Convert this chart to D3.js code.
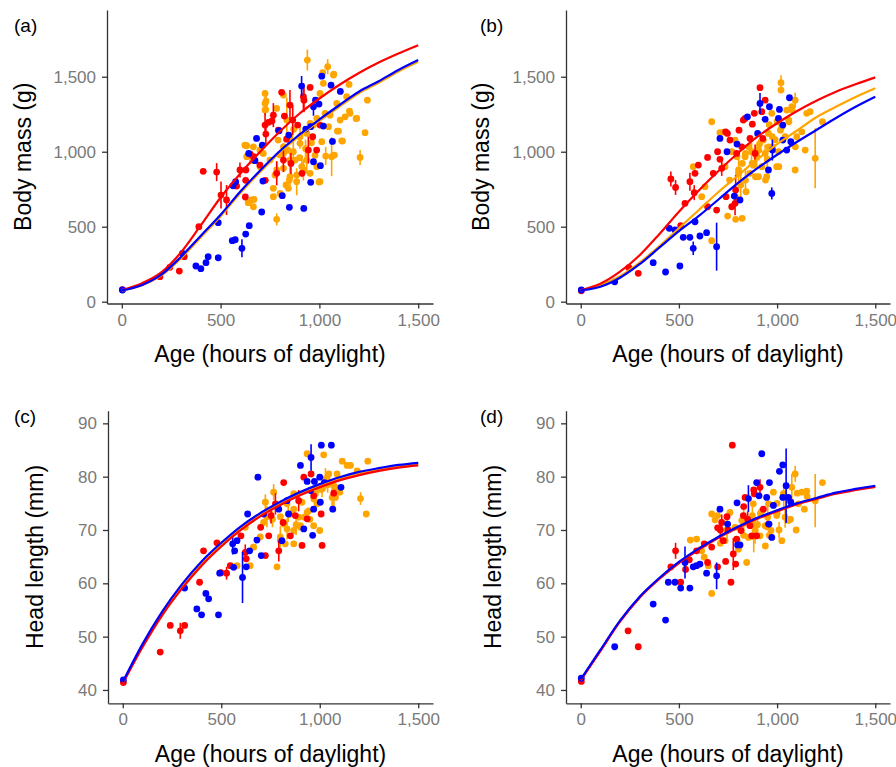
<!DOCTYPE html>
<html>
<head>
<meta charset="utf-8">
<script src="https://cdn.jsdelivr.net/npm/d3@7"></script>
<style>
  body { margin: 0; background: #fff; }
  svg { display: block; font-family: "Liberation Sans", Arial, sans-serif; }
  .tick text { fill: #7a7a7a; font-size: 17px; }
  .domain, .tick line { stroke: #333; stroke-width: 1.3; }
</style>
</head>
<body>
<div id="chart"></div>
<script>
// ---- data ----
var xTicks = [0, 500, 1000, 1500];
var massTicks = [0, 500, 1000, 1500];
var headTicks = [40, 50, 60, 70, 80, 90];

// fitted curves, sampled every 100 hours
var curveAge = [0, 100, 200, 300, 400, 500, 600, 700, 800, 900, 1000, 1100, 1200, 1300, 1400, 1500];

var massA_redFit    = [78, 122, 195, 330, 510, 695, 855, 1000, 1135, 1255, 1355, 1445, 1525, 1595, 1655, 1710];
var massA_orangeFit = [74, 108, 175, 290, 430, 570, 725, 865, 995, 1105, 1205, 1300, 1390, 1460, 1535, 1600];
var massA_blueFit   = [75, 110, 180, 300, 440, 580, 735, 875, 1005, 1115, 1215, 1310, 1400, 1470, 1545, 1611];

var massB_redFit    = [78, 120, 200, 310, 450, 600, 740, 870, 990, 1100, 1190, 1270, 1340, 1400, 1450, 1496];
var massB_orangeFit = [75, 110, 170, 260, 370, 490, 610, 730, 840, 950, 1050, 1140, 1230, 1300, 1365, 1423];
var massB_blueFit   = [75, 100, 160, 250, 360, 470, 570, 680, 790, 890, 980, 1065, 1145, 1225, 1300, 1367];

var headC_redFit    = [41.2, 48.0, 54.0, 59.0, 63.3, 66.9, 70.0, 72.6, 74.7, 76.5, 78.0, 79.3, 80.3, 81.1, 81.7, 82.1];
var headC_orangeFit = [41.3, 48.2, 54.3, 59.3, 63.6, 67.2, 70.3, 72.9, 75.0, 76.8, 78.3, 79.6, 80.6, 81.4, 82.0, 82.4];
var headC_blueFit   = [41.5, 48.6, 54.7, 59.8, 64.1, 67.6, 70.7, 73.2, 75.3, 77.1, 78.6, 79.9, 80.9, 81.6, 82.2, 82.6];

var headD_redFit    = [41.8, 47.3, 52.8, 57.3, 60.8, 63.8, 66.3, 68.5, 70.4, 72.1, 73.5, 74.8, 75.8, 76.8, 77.5, 78.1];
var headD_orangeFit = [41.9, 47.4, 52.9, 57.4, 60.9, 63.9, 66.4, 68.6, 70.5, 72.2, 73.6, 74.9, 75.9, 76.9, 77.6, 78.2];
var headD_blueFit   = [42.0, 47.5, 53.0, 57.5, 61.0, 64.0, 66.5, 68.7, 70.6, 72.3, 73.7, 75.0, 76.0, 77.0, 77.7, 78.3];

// observations: [age, value, half length of error bar]
var massA_blue = [[3,78,0],[307,322,0],[375,238,0],[400,220,0],[426,260,0],[437,300,0],[488,293,0],[488,527,0],
  [559,407,0],[574,413,0],[608,356,60],[627,451,0],[645,507,0],[563,773,0],[576,800,0],[642,989,0],[682,1089,0],
  [674,940,0],[711,1044,0],[708,598,0],[714,804,0],[796,1140,0],[812,707,0],[845,1111,0],[848,629,0],[910,1438,67],
  [921,622,0],[931,1151,0],[956,796,0],[956,1167,0],[970,933,0],[970,1300,60],[981,1344,0],[998,1318,0],[1005,907,0],
  [1012,1504,0],[1020,1171,0],[1059,1444,0],[1066,1069,0],[1106,1402,0]];
var massA_red = [[3,80,0],[193,167,0],[243,229,0],[291,204,0],[316,300,0],[390,500,0],[412,869,0],[480,864,60],[502,711,90],
  [530,678,100],[581,771,0],[598,878,50],[625,698,0],[627,809,0],[650,984,0],[699,911,0],[726,809,0],[729,1118,70],
  [742,1196,0],[767,1244,80],[784,856,80],[809,1396,0],[823,1238,0],[834,1084,0],[856,922,70],[865,1211,100],
  [890,1178,0],[912,856,0],[922,1344,80],[953,1429,0],[966,1100,0],[986,1011,0],[1003,1178,0],[792,1144,0],[760,1205,0],
  [725,1178,80],[851,1311,100],[919,1367,90],[944,1011,90],[818,944,80],[628,878,0],[666,967,0]];
var massA_orange = [[939,1611,70],[1042,1567,50],[1017,1527,0],[1073,1518,0],[1150,1449,0],[730,1338,50],[728,1282,0],
  [632,1040,0],[662,940,0],[640,660,0],[669,682,0],[767,700,0],[784,549,40],[831,778,0],[848,811,0],[885,844,0],
  [1003,800,0],[1032,971,60],[1062,967,130],[1076,978,0],[1113,1073,0],[1091,1138,0],[1152,1271,0],[1186,1222,0],
  [1206,962,50],[1231,1127,0],[1243,1344,0],[1130,1233,0],[725,1389,0],[818,1378,0],[725,1278,0],[784,1289,0],
  [1020,1456,0],[1071,1511,0],[1003,1389,0],[1088,1322,0],[1155,1256,0],[1189,1222,0],[1117,1071,0],[1097,1138,0],
  [998,798,0],[953,856,0],[978,976,0],[911,900,70],[877,944,0],[851,833,60],[818,889,0],[775,844,0],[750,944,0],
  [818,1033,0],[851,1100,0],[868,1000,80],[902,1056,0],[936,1122,0],[953,1189,0],[987,1222,0],[1029,1256,0],
  [1046,1167,0],[1012,1067,0],[767,756,0],[801,722,0],[843,756,0],[657,678,0],[666,633,0],[885,800,90],[699,900,0],
  [716,989,0],[623,1044,0],[900,960,0],[930,1020,60],[960,1060,0],[870,1150,0],[840,1010,0],[800,980,0],
  [725,1322,80],[835,1211,150],[902,1100,80],[936,944,90],[851,944,70],[784,878,60],[818,989,70],[919,878,70],
  [987,900,0],[699,1011,0],[666,1033,0],[632,967,0],[791,1078,0],[970,1178,0],[1105,1211,0],[1138,1367,0],[1054,1244,0]];

var massB_blue = [[3,78,0],[173,133,0],[369,260,0],[432,198,0],[505,238,0],[451,489,0],[480,478,0],[522,429,0],[556,429,0],
  [582,533,0],[573,356,45],[607,438,0],[641,460,0],[692,367,160],[709,1089,0],[745,1000,0],[796,1051,0],[782,704,0],
  [811,678,0],[849,1233,0],[901,1122,0],[913,1322,70],[939,1216,0],[956,878,0],[961,1300,0],[973,722,40],[976,1011,70],
  [1012,1282,0],[1029,1178,0],[1029,1078,0],[1049,1011,0],[1063,1360,0],[1070,1067,0],[1007,1222,0]];
var massB_red = [[3,73,0],[245,227,0],[293,189,0],[459,818,50],[483,762,50],[509,507,0],[531,656,0],[556,800,60],[578,727,50],
  [582,856,0],[599,911,0],[646,633,0],[646,962,0],[675,856,0],[692,611,0],[697,1000,0],[709,949,0],[718,889,50],
  [740,700,0],[738,1133,0],[760,1078,0],[769,633,0],[786,656,80],[789,744,100],[794,989,0],[806,1144,0],[820,1033,0],
  [828,1211,0],[837,1222,0],[862,1089,0],[874,1184,0],[884,1256,0],[913,1427,0],[922,1267,0],[939,1344,0],[927,1089,0],
  [888,989,60],[747,1122,0]];
var massB_orange = [[667,1200,0],[709,1127,0],[728,1131,0],[735,900,0],[769,1000,0],[573,900,0],[633,767,0],[616,700,0],
  [667,407,0],[748,571,0],[789,549,0],[815,778,80],[842,733,0],[861,856,0],[837,967,0],[879,909,0],[896,967,70],[905,833,0],
  [922,900,0],[939,989,60],[930,1078,0],[956,1122,0],[973,1256,0],[978,1033,0],[1007,1000,0],[998,900,0],[1020,1460,50],
  [1020,1411,0],[1024,1167,0],[1041,1100,0],[1049,1278,0],[1075,1300,0],[1092,1344,50],[1100,1100,0],[1092,878,0],
  [1126,1133,0],[1151,1256,0],[1168,1267,0],[1194,956,200],[1231,1200,0],[1143,1011,0],[947,833,0],[823,922,0],[854,1033,0],
  [786,1078,0],[803,856,0],[870,1000,60],[910,1050,0],[950,950,70],[990,1080,0],[1060,1200,0],[1000,1200,0],[960,1180,0],
  [796,967,0],[804,878,100],[839,989,0],[873,922,0],[907,1011,70],[958,1033,0],[975,1100,0],[1017,1144,0],[1059,1211,0],
  [1093,1033,0],[1076,1278,0],[839,811,80],[890,833,0],[941,811,0],[1009,900,0],[822,556,0],[788,700,0],[758,811,0]];

var headC_blue = [[3,41.9,0],[314,59.1,0],[376,55.2,0],[400,54.1,0],[422,58.1,0],[436,57.1,0],[486,54.1,0],[492,61.9,0],
  [558,67.4,2],[568,66.1,0],[580,68,0],[563,63,0],[608,61.1,4.8],[634,73,0],[644,66.1,0],[627,63.1,0],[681,68.1,0],
  [686,79.9,0],[703,65.2,0],[715,73,0],[792,73.9,0],[808,68,0],[834,75.5,0],[842,73,0],[902,82.1,0],[919,70.2,0],
  [936,79.1,0],[956,83.6,2.5],[964,69,0],[969,73.9,0],[973,79.1,0],[1000,79.9,0],[1008,85.9,0],[1003,75.2,0],
  [1024,78.9,0],[1059,85.9,0],[1066,73.9,0],[1108,78,0],[953,77.4,0]];
var headC_red = [[3,41.4,0],[190,47.1,0],[241,52.1,0],[292,51.1,1.5],[314,52.1,0],[390,60.2,0],[410,66.1,0],[478,67.6,0],
  [498,62,0],[527,61.9,1.2],[546,63.3,0],[600,68.9,0],[627,64.6,0],[622,65.8,1.5],[724,65.2,0],[741,68.9,0],
  [753,72.7,1.5],[775,74.9,2],[792,66.1,2],[817,78.9,0],[814,71.4,0],[851,68.9,0],[876,72.7,0],[893,75.5,2],
  [910,67.1,0],[919,79.9,0],[936,72.1,0],[956,80.5,0],[969,76.4,0],[1007,73,0],[1012,67.1,0],[1071,76.9,0],[700,70.5,0]];
var headC_orange = [[580,63.3,0],[647,63.3,0],[622,70.5,0],[664,66.8,0],[724,75.2,1.5],[766,77.1,1.5],[715,71.4,0],
  [783,63.1,0],[825,67.4,0],[817,71.1,0],[851,73,0],[868,69.9,0],[868,76.8,0],[893,72.4,0],[910,75.2,0],[936,84.3,0],
  [944,73.6,0],[969,70.8,0],[986,74.9,0],[1000,69.9,0],[1012,77.7,1.5],[1020,84.1,0],[1029,79.6,2],[1046,80.5,0],
  [1063,76.1,2],[1080,78,0],[1088,80.5,0],[1114,82.9,0],[1139,82.1,0],[1156,82.1,0],[1190,81.1,0],[1207,75.9,1.2],
  [1236,73,0],[1244,82.9,0],[902,70.5,0],[922,72.4,0],[834,74.9,0],[800,68,0],[868,67.4,0],[978,76.8,0],[1071,78.3,0],
  [1080,76.1,0],[1102,77.1,0],[760,72,1.5],[880,71,2],[950,72,0],[990,78,0],[840,73,1.5],[1040,78.5,1.5],
  [732,72.5,2],[834,70.2,2],[868,73.9,0],[902,70.8,0],[936,73.3,0],[970,75.8,0],[1004,77.6,0],[1038,79.5,0],
  [1072,76.4,2],[800,68.7,2],[698,68.7,0],[664,66.8,0],[800,72.5,0]];

var headD_blue = [[3,42.2,0],[173,48.1,0],[369,56.1,0],[432,53.1,0],[446,60.2,0],[480,60.2,0],[509,59.1,0],[531,63.9,3],
  [556,59.1,0],[573,63.1,0],[590,63.3,0],[607,63.6,0],[641,61.9,0],[692,61.4,2.5],[709,73.9,0],[748,71.1,0],[796,75.1,0],
  [799,67.2,0],[811,67.2,0],[854,75.9,2.5],[896,78.9,0],[908,76.4,0],[922,84.3,0],[947,76.1,0],[959,71.1,0],[961,78.9,0],
  [973,68.6,0],[981,74.6,0],[1012,81,0],[1029,82.2,0],[1029,76.1,0],[1046,78.3,7],[1058,76.1,0],[1070,75.2,0]];
var headD_red = [[3,41.6,0],[241,51.1,0],[293,48.1,0],[459,63.1,0],[483,66.1,1.5],[509,60.2,0],[534,62.6,0],[553,64.4,0],
  [590,66.1,0],[629,67.4,0],[646,63.9,0],[667,66.8,0],[697,63.1,0],[697,70.4,0],[718,71.4,1.5],[726,68,0],[738,64.1,0],
  [765,60.2,0],[772,85.9,0],[777,65.5,3],[789,63.6,0],[794,68.3,0],[816,69.9,0],[828,72.7,0],[837,76.1,0],[862,70.8,0],
  [871,68.9,0],[884,76.8,0],[896,68.9,0],[913,78,1.5],[930,73.9,0],[956,71.1,0],[750,70,0],[850,72,1.5],
  [711,70,2],[830,74.4,0],[881,77.5,0],[745,72.5,0]];
var headD_orange = [[590,68.3,0],[616,66.1,0],[629,64.9,0],[650,63.3,0],[667,73,0],[667,58.1,0],[684,71.9,0],[697,72.7,0],
  [735,68,0],[760,73.3,0],[786,70.5,0],[803,66.4,0],[820,71.8,0],[845,63.9,0],[854,68.6,0],[874,72.7,2],[888,69.9,2.5],
  [913,68.9,0],[922,73.6,0],[939,70.8,0],[952,72.4,2],[969,69.9,0],[981,77.1,0],[998,72.7,0],[1024,68,0],[1032,76.8,0],
  [1041,72.4,2],[1058,71.8,0],[1075,78,2.5],[1092,80.5,1.5],[1097,70,0],[1109,74.9,0],[1126,77.1,0],[1139,73.9,0],
  [1151,77.3,0],[1194,75.5,5],[1231,78.9,0],[956,74.9,0],[879,74.9,0],[1058,75.8,0],[900,71,1.5],[940,67,0],[1000,75,0],
  [1010,70,1.5],[830,69,0],[960,69,0],
  [745,70,2],[830,71.3,2.5],[881,68.8,3],[915,73.1,0],[949,70.6,0],[1000,73.1,0],[1034,76.3,2.5],[1102,76.9,0],
  [1153,76.3,0],[1068,72,0],[796,68.1,0],[711,67.5,0],[609,66.3,0],[558,68.1,0]];

// ---- layout ----
var width = 896, height = 767;
var colors = { orange: "#ffa500", red: "#ff0000", blue: "#0000ff" };

var panels = [
  { tag: "(a)", tagX: 14, tagY: 32, ylab: "Body mass (g)", ylabX: 23, xRange: [107, 433], yRange: [303.5, 10],
    yDomain: [-12, 1945], yTicks: massTicks, fmt: d3.format(","), xlabY: 362,
    pts: { orange: massA_orange, red: massA_red, blue: massA_blue },
    fit: { orange: massA_orangeFit, red: massA_redFit, blue: massA_blueFit } },
  { tag: "(b)", tagX: 480, tagY: 32, ylab: "Body mass (g)", ylabX: 481, xRange: [566, 890], yRange: [303.5, 10],
    yDomain: [-12, 1945], yTicks: massTicks, fmt: d3.format(","), xlabY: 362,
    pts: { orange: massB_orange, red: massB_red, blue: massB_blue },
    fit: { orange: massB_orangeFit, red: massB_redFit, blue: massB_blueFit } },
  { tag: "(c)", tagX: 14, tagY: 423, ylab: "Head length (mm)", ylabX: 35, xRange: [108, 433], yRange: [703.3, 410.7],
    yDomain: [37.5, 92.37], yTicks: headTicks, fmt: d3.format("d"), xlabY: 762,
    pts: { orange: headC_orange, red: headC_red, blue: headC_blue },
    fit: { orange: headC_orangeFit, red: headC_redFit, blue: headC_blueFit } },
  { tag: "(d)", tagX: 480, tagY: 423, ylab: "Head length (mm)", ylabX: 493, xRange: [566, 890], yRange: [703.3, 410.7],
    yDomain: [37.5, 92.37], yTicks: headTicks, fmt: d3.format("d"), xlabY: 762,
    pts: { orange: headD_orange, red: headD_red, blue: headD_blue },
    fit: { orange: headD_orangeFit, red: headD_redFit, blue: headD_blueFit } }
];

var svg = d3.select("#chart").append("svg")
  .attr("width", width)
  .attr("height", height);

var order = ["orange", "red", "blue"];

panels.forEach(function(p) {
  var x = d3.scaleLinear().domain([-75, 1575]).range(p.xRange);
  var y = d3.scaleLinear().domain(p.yDomain).range(p.yRange);
  var g = svg.append("g");

  // axes
  g.append("g")
    .attr("transform", "translate(0," + p.yRange[0] + ")")
    .call(d3.axisBottom(x).tickValues(xTicks).tickFormat(d3.format(",")).tickSize(5).tickPadding(5).tickSizeOuter(0));
  g.append("g")
    .attr("transform", "translate(" + p.xRange[0] + ",0)")
    .call(d3.axisLeft(y).tickValues(p.yTicks).tickFormat(p.fmt).tickSize(5).tickPadding(6).tickSizeOuter(0));

  // error bars and points
  order.forEach(function(c) {
    var data = p.pts[c];
    g.append("g").selectAll("line")
      .data(data.filter(function(d) { return d[2] > 0; }))
      .enter().append("line")
      .attr("x1", function(d) { return x(d[0]); })
      .attr("x2", function(d) { return x(d[0]); })
      .attr("y1", function(d) { return y(d[1] - d[2]); })
      .attr("y2", function(d) { return y(d[1] + d[2]); })
      .attr("stroke", colors[c])
      .attr("stroke-width", 1.6);
    g.append("g").selectAll("circle")
      .data(data)
      .enter().append("circle")
      .attr("cx", function(d) { return x(d[0]); })
      .attr("cy", function(d) { return y(d[1]); })
      .attr("r", 3.4)
      .attr("fill", colors[c]);
  });

  // fitted curves
  var line = d3.line()
    .x(function(d, i) { return x(curveAge[i]); })
    .y(function(d) { return y(d); })
    .curve(d3.curveMonotoneX);
  order.forEach(function(c) {
    g.append("path")
      .attr("d", line(p.fit[c]))
      .attr("fill", "none")
      .attr("stroke", colors[c])
      .attr("stroke-width", 2.2);
  });

  // labels
  g.append("text")
    .attr("x", p.tagX).attr("y", p.tagY)
    .attr("font-size", 19)
    .text(p.tag);
  g.append("text")
    .attr("transform", "translate(" + p.ylabX + "," + (p.yRange[0] + p.yRange[1]) / 2 + ") rotate(-90)")
    .attr("text-anchor", "middle")
    .attr("dominant-baseline", "central")
    .attr("font-size", 23)
    .text(p.ylab);
  g.append("text")
    .attr("x", (p.xRange[0] + p.xRange[1]) / 2)
    .attr("y", p.xlabY)
    .attr("text-anchor", "middle")
    .attr("font-size", 23)
    .text("Age (hours of daylight)");
});
</script>
</body>
</html>
